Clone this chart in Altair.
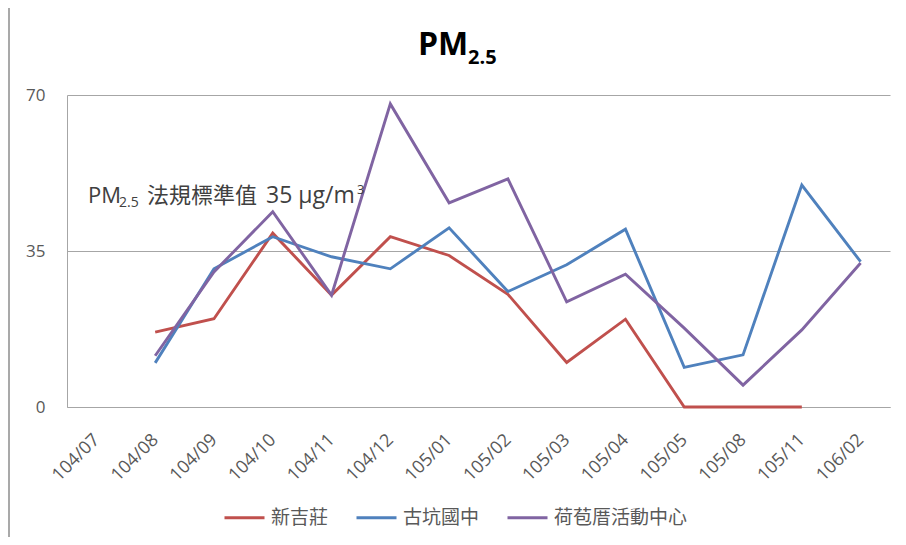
import altair as alt
import pandas as pd

# ---- data ----
months = ["104/07", "104/08", "104/09", "104/10", "104/11", "104/12", "105/01",
          "105/02", "105/03", "105/04", "105/05", "105/08", "105/11", "106/02"]
xinjizhuang = [None, 16.8, 19.8, 39.0, 25.1, 38.2, 34.0, 25.3, 10.0, 19.7, 0.0, 0.0, 0.0, None]
gukeng = [None, 9.9, 31.0, 38.2, 33.7, 31.0, 40.2, 25.9, 31.9, 39.9, 8.9, 11.7, 49.8, 32.6]
hebaocuo = [None, 11.5, 30.3, 43.8, 25.1, 68.0, 45.8, 51.2, 23.6, 29.8, 17.7, 4.9, 17.3, 32.3]
series_names = ["新吉莊", "古坑國中", "荷苞厝活動中心"]
series_colors = ["#C0504D", "#4F81BD", "#8064A2"]
y_ticks = [0, 35, 70]

title_main = "PM"
title_sub = "2.5"
note_pm = "PM"
note_sub = "2.5"
note_cjk = "法規標準值"
note_unit = "35 μg/m"
note_sup = "3"

FONT = "Open Sans, Noto Sans CJK TC, sans-serif"
GRAY = "#595959"
GRID = "#A6A6A6"

rows = []
for name, vals in zip(series_names, [xinjizhuang, gukeng, hebaocuo]):
    for i, (m, v) in enumerate(zip(months, vals)):
        if v is not None:
            rows.append({"month": m, "series": name, "value": v, "idx": i})
df = pd.DataFrame(rows)

lines = alt.Chart(df).mark_line(strokeWidth=2.9).encode(
    x=alt.X("month:O", scale=alt.Scale(type="point", domain=months, padding=0.5),
            axis=alt.Axis(title=None, labelAngle=-45, labelAlign="right",
                          labelBaseline="middle", labelPadding=30, ticks=False,
                          labelFontSize=18, labelColor=GRAY, labelFont=FONT,
                          domainColor=GRID, domainWidth=1.2, grid=False)),
    y=alt.Y("value:Q", scale=alt.Scale(domain=[0, 70], nice=False, zero=True),
            axis=alt.Axis(title=None, values=y_ticks, grid=True, gridColor=GRID,
                          gridWidth=1.2, ticks=False, domain=True, domainColor=GRID,
                          labelPadding=22, labelFontSize=17, labelColor=GRAY,
                          labelFont=FONT)),
    color=alt.Color("series:N",
                    scale=alt.Scale(domain=series_names, range=series_colors),
                    legend=alt.Legend(orient="none", legendX=156, legendY=401,
                                      direction="horizontal", title=None,
                                      symbolType="stroke", symbolSize=1600,
                                      symbolStrokeWidth=3, labelFontSize=19,
                                      labelColor=GRAY, labelFont=FONT,
                                      labelOffset=5, columnPadding=21)),
    order=alt.Order("idx:Q"),
)

def txt(s, x, y, size, bold=False, color="black"):
    return alt.Chart(pd.DataFrame({"t": [s]})).mark_text(
        align="left", baseline="alphabetic", fontSize=size, font=FONT,
        fontWeight="bold" if bold else "normal", color=color
    ).encode(x=alt.value(x), y=alt.value(y), text="t:N")

NOTE = "#404040"
layers = [
    lines,
    txt(title_main, 351, -40, 32, bold=True),
    txt(title_sub, 401, -31, 20, bold=True),
    txt(note_pm, 21, 108, 22, color=NOTE),
    txt(note_sub, 52, 112, 14, color=NOTE),
    txt(note_cjk, 80, 108, 22, color=NOTE),
    txt(note_unit, 199, 108, 23, color=NOTE),
    txt(note_sup, 290, 99, 13, color=NOTE),
]

border = alt.Chart(pd.DataFrame({"a": [0]})).mark_rule(color="#8C8C8C", strokeWidth=1.5).encode(
    x=alt.value(-58), y=alt.value(-87), y2=alt.value(442))
layers.append(border)

chart = alt.layer(*layers).properties(
    width=823, height=312,
    autosize=alt.AutoSizeParams(type="none"),
    padding={"left": 59, "top": 87, "right": 8, "bottom": 130},
    background="white",
).configure_view(stroke=None)

chart.save("out.html", embed_options={"renderer": "svg", "actions": False})
